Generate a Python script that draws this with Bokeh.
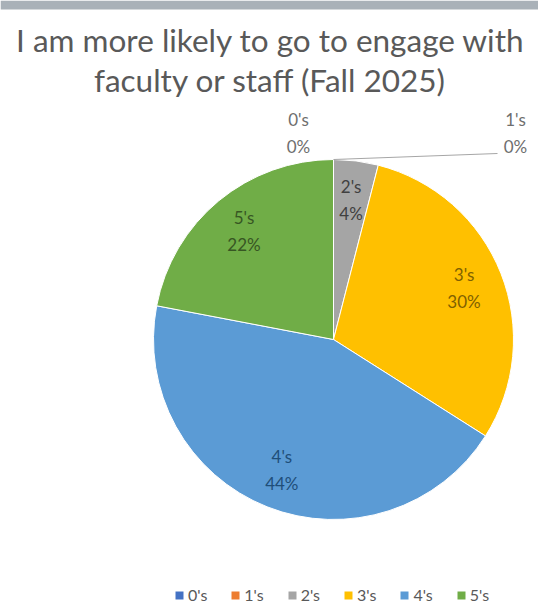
import math
from bokeh.plotting import figure
from bokeh.models import Range1d, ColumnDataSource, Legend, LegendItem
from bokeh.core.properties import value
from bokeh.embed import file_html
from bokeh.resources import INLINE

# ---- data ----
title_lines = ["I am more likely to go to engage with", "faculty or staff (Fall 2025)"]
categories = ["0's", "1's", "2's", "3's", "4's", "5's"]
percents = [0, 0, 4, 30, 44, 22]
colors = ["#4472C4", "#ED7D31", "#A5A5A5", "#FFC000", "#5B9BD5", "#70AD47"]
label_colors = ["#6E6E6E", "#6E6E6E", "#404040", "#7F6000", "#1F4E79", "#375623"]

W, H = 538, 613
FONT = "Lato"
cx, cy, R = 333, H - 339, 180

p = figure(width=W, height=H, x_range=Range1d(0, W), y_range=Range1d(0, H),
           output_backend="svg", toolbar_location=None, min_border=0)
p.axis.visible = False
p.grid.visible = False
p.outline_line_color = None

# top decorative band
p.quad(left=[0], right=[W], bottom=[H - 9], top=[H], fill_color="#A9B1B8", line_color=None)

# title
p.text(x=[W / 2 + 1] * 2, y=[H - 39, H - 79], text=title_lines, text_align="center",
       text_baseline="middle", text_font=value(FONT), text_font_size="31.5px",
       text_color="#595959")

# wedges
total = sum(percents)
starts, ends, mids = [], [], []
cum = 0.0
for v in percents:
    a0 = math.pi / 2 - 2 * math.pi * cum / total
    cum += v
    a1 = math.pi / 2 - 2 * math.pi * cum / total
    starts.append(a0); ends.append(a1); mids.append((a0 + a1) / 2)

nz = [i for i, v in enumerate(percents) if v > 0]
src = ColumnDataSource(dict(
    x=[cx] * len(nz), y=[cy] * len(nz),
    start=[starts[i] for i in nz], end=[ends[i] for i in nz],
    color=[colors[i] for i in nz]))
p.wedge(x="x", y="y", radius=R, start_angle="start", end_angle="end",
        direction="clock", fill_color="color", line_color="white", line_width=1,
        source=src)

# labels
names_x, names_y, pct_x, pct_y, names, pcts, lcols = [], [], [], [], [], [], []
zero_offsets = {0: (-35, 207), 1: (182, 207)}  # outside label placement for empty slices
lead_x0, lead_y0, lead_x1, lead_y1 = [], [], [], []
for i, v in enumerate(percents):
    if v > 0:
        lx = cx + 0.78 * R * math.cos(mids[i])
        ly = cy + 0.78 * R * math.sin(mids[i])
    else:
        dx, dy = zero_offsets[i]
        lx, ly = cx + dx, cy + dy
        if i == 1:
            lead_x0.append(cx + R * math.cos(mids[i]))
            lead_y0.append(cy + R * math.sin(mids[i]))
            lead_x1.append(lx - 18); lead_y1.append(ly - 21)
    names_x.append(lx); names_y.append(ly + 13.5)
    pct_x.append(lx); pct_y.append(ly - 13.5)
    names.append(categories[i]); pcts.append(f"{v}%"); lcols.append(label_colors[i])

p.segment(x0=lead_x0, y0=lead_y0, x1=lead_x1, y1=lead_y1, line_color="#A6A6A6", line_width=1.2)
p.text(x=names_x, y=names_y, text=names, text_color=lcols, text_align="center",
       text_baseline="middle", text_font=value(FONT), text_font_size="17px")
p.text(x=pct_x, y=pct_y, text=pcts, text_color=lcols, text_align="center",
       text_baseline="middle", text_font=value(FONT), text_font_size="17px")

# legend
items = []
for i, c in enumerate(categories):
    r = p.quad(left=[float("nan")], right=[float("nan")], bottom=[float("nan")],
               top=[float("nan")], fill_color=colors[i], line_color=None)
    items.append(LegendItem(label=c, renderers=[r]))
legend = Legend(items=items, orientation="horizontal", location=(174, 9),
                glyph_width=10, glyph_height=10, label_standoff=4, spacing=23,
                padding=0, margin=0, border_line_color=None, background_fill_alpha=0,
                label_text_font=FONT, label_text_font_size="16px",
                label_text_color="#595959", label_width=10)
p.add_layout(legend, "center")

open("out.html", "w").write(file_html(p, INLINE))
